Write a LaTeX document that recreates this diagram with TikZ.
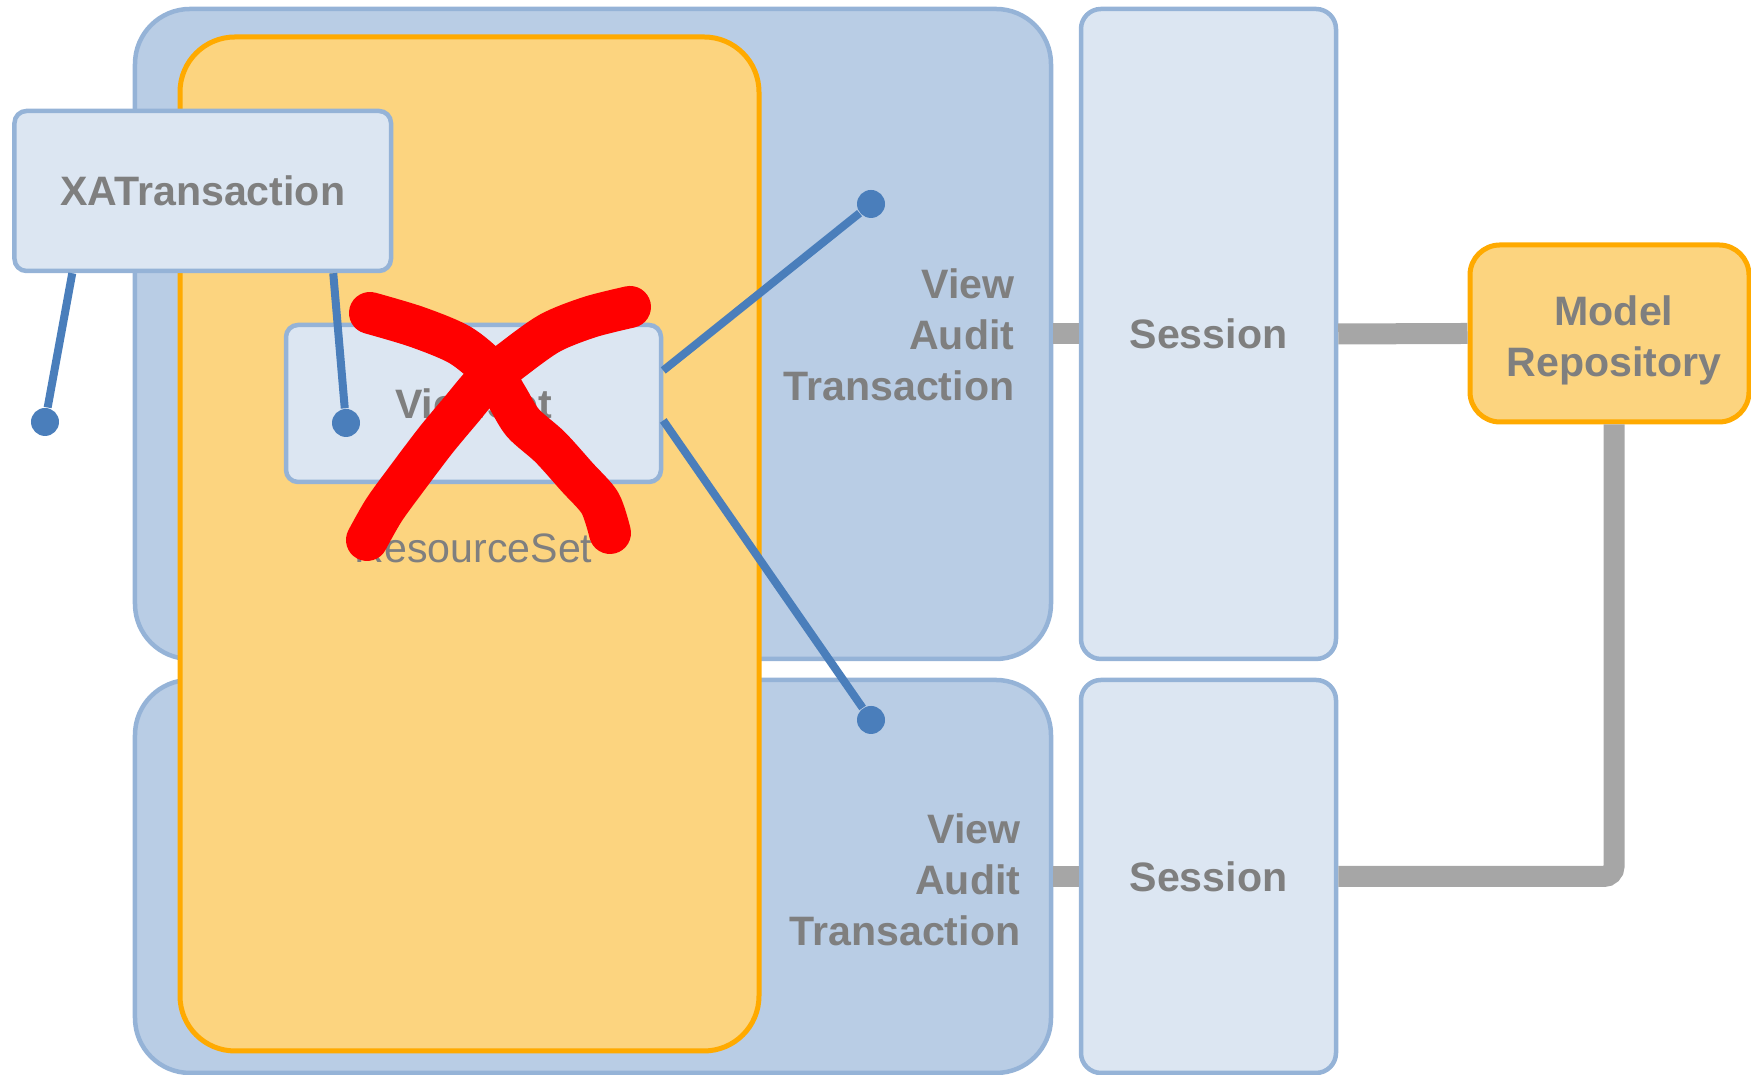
\documentclass[tikz,border=0pt]{standalone}
\usepackage{fontspec}
\setmainfont{Liberation Sans}
\usetikzlibrary{positioning}
\definecolor{txblue}{RGB}{185,205,229}
\definecolor{txedge}{RGB}{149,179,215}
\definecolor{txpale}{RGB}{220,230,242}
\definecolor{txorange}{RGB}{252,212,127}
\definecolor{txamber}{RGB}{255,170,0}
\definecolor{txlink}{RGB}{74,126,187}
\definecolor{txgray}{RGB}{127,127,127}
\definecolor{txbar}{RGB}{166,166,166}

\begin{document}
\begin{tikzpicture}[
  every node/.style={font=\fontsize{11.7}{14.5}\selectfont, text=txgray},
  boldtxt/.style={font=\fontsize{11.7}{14.5}\selectfont\bfseries},
  bigbox/.style={draw=txedge, fill=txblue, line width=0.045cm, rounded corners=0.55cm, inner sep=0},
  palebox/.style={draw=txedge, fill=txpale, line width=0.045cm, inner sep=0},
  setbox/.style={draw=txamber, fill=txorange, line width=0.05cm, inner sep=0},
  dot/.style={circle, fill=txlink, inner sep=0, minimum size=0.28cm},
  bluelink/.style={draw=txlink, line width=0.08cm},
  barlink/.style={draw=txbar, line width=0.21cm},
  redx/.style={draw=red, line width=0.42cm, line cap=round, line join=round}
]
  \useasboundingbox (0,0) rectangle (17.51,10.75);

  % Transaction blocks
  \node[bigbox, minimum width=9.16cm, minimum height=6.5cm] (txtop) at (5.93,7.41) {};
  \node[bigbox, minimum width=9.16cm, minimum height=3.93cm] (txbot) at (5.93,1.985) {};

  % Resource set
  \node[setbox, rounded corners=0.55cm, minimum width=5.79cm, minimum height=10.14cm] (rset) at (4.695,5.31) {};
  \node[palebox, boldtxt, rounded corners=0.12cm, minimum width=3.75cm, minimum height=1.57cm] (va) at (4.735,6.715) {ViewSet};
  \node[below=0.49cm of va, inner sep=0] (rslabel) {ResourceSet};

  % XA transaction
  \node[palebox, boldtxt, rounded corners=0.12cm, minimum width=3.765cm, minimum height=1.6cm] (xa) at (2.0275,8.84) {XATransaction};

  \node[dot] (d1) at (0.45,6.53) {};
  \node[dot] (d2) at (3.46,6.52) {};
  \node[dot] (d3) at (8.71,8.71) {};
  \node[dot] (d4) at (8.71,3.55) {};
  \draw[bluelink] ([xshift=0.6cm]xa.south west) -- (d1);
  \draw[bluelink] ([xshift=-0.6cm]xa.south east) -- (d2);
  \draw[bluelink] ([yshift=0.33cm]va.east) -- (d3);
  \draw[bluelink] ([yshift=-0.17cm]va.east) -- (d4);

  \node[boldtxt, align=right, anchor=east, inner sep=0] (vat1) at (10.15,7.40) {View\\Audit\\Transaction};
  \node[boldtxt, align=right, anchor=east, inner sep=0] (vat2) at (10.21,1.95) {View\\Audit\\Transaction};

  % Sessions and repository
  \node[palebox, boldtxt, rounded corners=0.2cm, minimum width=2.55cm, minimum height=6.5cm] (sesstop) at (12.085,7.41) {Session};
  \node[palebox, boldtxt, rounded corners=0.2cm, minimum width=2.55cm, minimum height=3.93cm] (sessbot) at (12.085,1.985) {Session};
  \node[setbox, rounded corners=0.3cm, minimum width=2.79cm, minimum height=1.77cm] (repo) at (16.095,7.415) {};
  \node[boldtxt, align=center] (repolbl) at ([xshift=0.045cm,yshift=-0.07cm]repo.center) {Model\\Repository};

  \draw[barlink] (txtop.east) -- (sesstop.west);
  \draw[barlink] (sesstop.east) -- (repo.west);
  \draw[barlink] (txbot.east) -- (sessbot.west);
  \draw[barlink, rounded corners=0.1cm] (sessbot.east) -| ([xshift=0.045cm]repo.south);

  % Crossed out
  \draw[redx] plot[smooth] coordinates {(3.70,7.62) (4.17,7.48) (4.60,7.30) (4.90,7.05) (5.07,6.78) (5.23,6.52) (5.50,6.28) (5.77,5.98) (6.00,5.72) (6.10,5.42)};
  \draw[redx] plot[smooth] coordinates {(6.30,7.68) (5.90,7.58) (5.50,7.42) (5.12,7.15) (4.84,6.92) (4.61,6.65) (4.36,6.35) (4.08,5.98) (3.84,5.65) (3.67,5.35)};
\end{tikzpicture}
\end{document}
